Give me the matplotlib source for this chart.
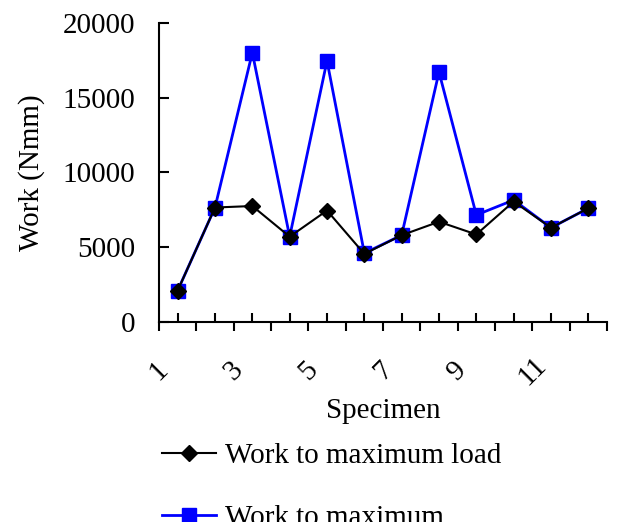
import matplotlib.pyplot as plt
from matplotlib.ticker import FixedLocator, NullFormatter

plt.rcParams['font.family'] = ['Liberation Serif', 'DejaVu Serif']

# Work values per specimen (Nmm)
specimens = list(range(1, 13))
work_max_load = [2100, 7650, 7750, 5700, 7450, 4550, 5800, 6700, 5850, 8050, 6300, 7600]
work_max = [2100, 7650, 18000, 5700, 17450, 4600, 5800, 16700, 7150, 8150, 6300, 7600]
tick_labels = ['1', '3', '5', '7', '9', '11']

FS = 21

fig = plt.figure(figsize=(6.22, 5.22), dpi=100)
ax = fig.add_axes([159 / 622, 1 - 322 / 522, 448 / 622, 299.3 / 522])

ax.plot(specimens, work_max_load, color='black', marker='D', markersize=8,
        linewidth=1.5, label='Work to maximum load', zorder=3)
ax.plot(specimens, work_max, color='#0000ff', marker='s', markersize=10,
        linewidth=2.0, label='Work to maximum', zorder=2)

ax.set_xlim(0.5, 12.5)
ax.set_ylim(0, 20000)
ax.set_yticks([0, 5000, 10000, 15000, 20000])

# category boundaries get outward ticks, data points get inward ticks
bounds = [b + 0.5 for b in range(0, 13)]
ax.xaxis.set_major_locator(FixedLocator(bounds))
ax.set_xticklabels([tick_labels[i // 2] if i % 2 == 0 and i // 2 < len(tick_labels) else ''
                    for i in range(13)],
                   rotation=45, ha='center', va='center', rotation_mode='anchor')
ax.xaxis.set_minor_locator(FixedLocator(specimens))
ax.xaxis.set_minor_formatter(NullFormatter())
ax.tick_params(axis='x', which='major', direction='out', length=6.5, width=1.5,
               labelsize=FS, pad=29)
ax.tick_params(axis='x', which='minor', direction='in', length=6.5, width=1.5)
ax.tick_params(axis='y', direction='in', length=7.5, width=1.5, labelsize=FS, pad=17)

for side in ['top', 'right']:
    ax.spines[side].set_visible(False)
for side in ['left', 'bottom']:
    ax.spines[side].set_linewidth(1.5)

ax.set_xlabel('Specimen', fontsize=FS, va='center')
ax.xaxis.set_label_coords(0.5, (322 - 411) / 299.3)
ax.set_ylabel('Work (Nmm)', fontsize=FS, va='center')
ax.yaxis.set_label_coords(-(159 - 32) / 448, 0.5)

fig.legend(loc='upper left', bbox_to_anchor=(162 / 622, 1 - 443 / 522),
           frameon=False, fontsize=FS, handlelength=1.85, handletextpad=0.3,
           labelspacing=1.2, borderaxespad=0, borderpad=0)

fig.savefig('out.png', dpi=100)
